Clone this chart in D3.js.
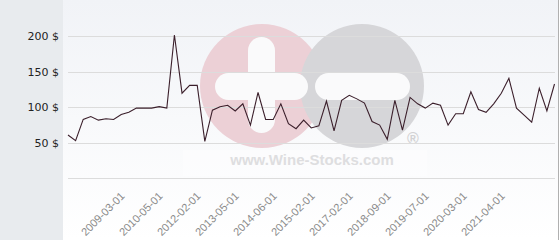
<!DOCTYPE html>
<html><head><meta charset="utf-8">
<script src="https://cdn.jsdelivr.net/npm/d3@7"></script>
<style>html,body{margin:0;padding:0;background:#fff;}svg{display:block;}</style>
</head><body>
<script>
const prices = [61,53,83,87,82,84,83,90,93,99,99,99,101,99,202,120,131,131,52,96,101,103,95,105,75,121,83,83,105,77,70,82,71,74,109,67,110,117,112,106,80,75,55,110,68,114,105,99,106,103,75,91,91,122,97,93,105,120,141,99,89,79,127,95,133];
const tickLabels = ["2009-03-01","2010-05-01","2012-02-01","2013-05-01","2014-06-01","2015-02-01","2017-02-01","2018-09-01","2019-07-01","2020-03-01","2021-04-01"];
const firstLabelIndex = 7, labelStep = 5;
const yTicks = [50,100,150,200];

const W=560,H=240;
const svg=d3.select("body").append("svg").attr("width",W).attr("height",H);
const defs=svg.append("defs");
const g=defs.append("linearGradient").attr("id","bg").attr("x1",0).attr("y1",0).attr("x2",0).attr("y2",1);
g.append("stop").attr("offset","0%").attr("stop-color","#f1f3f7");
g.append("stop").attr("offset","100%").attr("stop-color","#ffffff");

svg.append("rect").attr("x",0).attr("y",0).attr("width",63).attr("height",H).attr("fill","#e8ebee");
svg.append("rect").attr("x",63).attr("y",0).attr("width",495).attr("height",H).attr("fill","url(#bg)");
svg.append("line").attr("x1",558.5).attr("x2",558.5).attr("y1",0).attr("y2",H).attr("stroke","#b0b0b0");

const x=d3.scaleLinear().domain([0,prices.length-1]).range([68,554.5]);
const y=d3.scaleLinear().domain([0,250]).range([178.3,1]);

// watermark
const wm=svg.append("g");
wm.append("rect").attr("x",183).attr("y",150).attr("width",244).attr("height",26).attr("fill","#ffffff").attr("opacity",0.35);
wm.append("circle").attr("cx",262).attr("cy",86).attr("r",62).attr("fill","#ecd0d6");
wm.append("circle").attr("cx",362).attr("cy",86).attr("r",62).attr("fill","#d6d6d9");
wm.append("rect").attr("x",248).attr("y",37).attr("width",27).attr("height",96).attr("rx",13.5).attr("fill","#fafafb");
wm.append("rect").attr("x",215).attr("y",73).attr("width",93).attr("height",27).attr("rx",13.5).attr("fill","#fafafb");
wm.append("rect").attr("x",315).attr("y",73).attr("width",95).attr("height",27).attr("rx",13.5).attr("fill","#fafafb");
wm.append("text").attr("x",413).attr("y",144).attr("text-anchor","middle").attr("font-family","Liberation Sans, Arial").attr("font-size",16).attr("font-weight","bold").attr("fill","#d2d2d4").text("®");
wm.append("text").attr("x",312).attr("y",165).attr("text-anchor","middle").attr("font-family","Liberation Sans, Arial").attr("font-size",15).attr("font-weight","bold").attr("fill","#dedee0").text("www.Wine-Stocks.com");

// grid
const grid=svg.append("g");
grid.selectAll("line").data([0].concat(yTicks)).join("line")
  .attr("x1",68).attr("x2",555).attr("y1",d=>Math.round(y(d))+0.5).attr("y2",d=>Math.round(y(d))+0.5)
  .attr("stroke","#dcdcdc").attr("stroke-width",1);

// y axis
const yAxis=svg.append("g").attr("transform","translate(59,0)")
  .call(d3.axisLeft(y).tickValues(yTicks).tickSize(0).tickPadding(0).tickFormat(d=>d+" $"));
yAxis.select(".domain").remove();
yAxis.selectAll("text").attr("font-family","DejaVu Sans, sans-serif").attr("font-size",11).attr("fill","#222");

// x axis
const tickIdx=tickLabels.map((_,i)=>firstLabelIndex+i*labelStep);
const xAxis=svg.append("g").attr("transform","translate(0,194)")
  .call(d3.axisBottom(x).tickValues(tickIdx).tickSize(0).tickPadding(0).tickFormat((d,i)=>tickLabels[i]));
xAxis.select(".domain").remove();
xAxis.selectAll("text").attr("font-family","Liberation Sans, Arial, sans-serif").attr("font-size",11).attr("fill","#8a8a8a")
  .attr("text-anchor","end").attr("dy","0.35em").attr("transform","translate(1,0) rotate(-45)");

// line
svg.append("path").datum(prices)
  .attr("d",d3.line().x((d,i)=>x(i)).y(d=>y(d)))
  .attr("fill","none").attr("stroke","#3b1f2b").attr("stroke-width",1.1).attr("stroke-linejoin","miter");
</script>
</body></html>
